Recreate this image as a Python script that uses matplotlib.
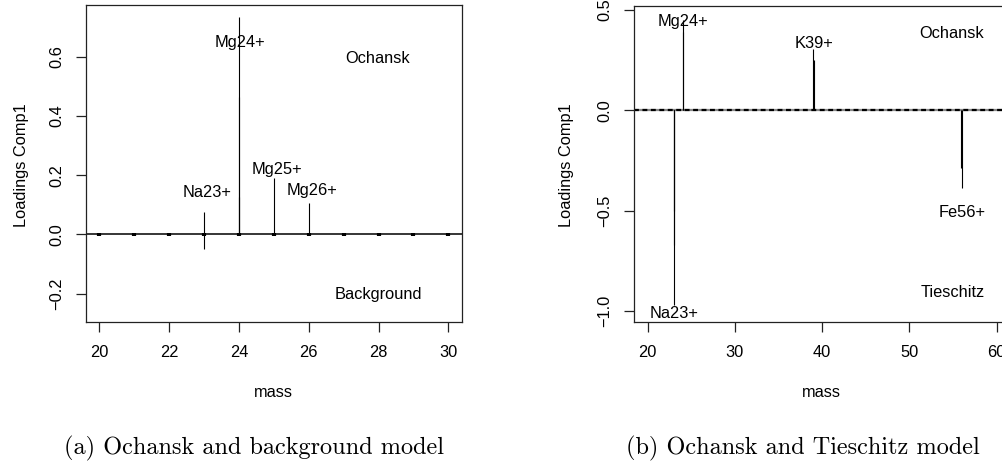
import matplotlib
matplotlib.use('Agg')
import matplotlib.pyplot as plt

plt.rcParams['font.family'] = ['Liberation Sans', 'DejaVu Sans']

# loadings of the first component, Ochansk vs background
mass_a = [22.99, 23.0, 23.99, 24.0, 24.01, 25.0, 26.0]
load_a = [0.075, -0.051, 0.733, 0.465, 0.125, 0.191, 0.107]
# near-zero loadings at the remaining integer masses
small_mass_a = [20, 21, 22, 23, 24, 25, 26, 27, 28, 29, 30]
small_load_a = [0.004, 0.004, 0.004, 0.005, 0.006, 0.005, 0.005, 0.004, 0.004, 0.004, 0.004]
peak_labels_a = ['Mg24+', 'Na23+', 'Mg25+', 'Mg26+']
peak_x_a = [24.04, 23.1, 25.1, 26.1]
peak_y_a = [0.653, 0.146, 0.225, 0.152]
class_labels_a = ['Ochansk', 'Background']
class_x_a = [27.98, 28.0]
class_y_a = [0.6, -0.197]
xticks_a = [20, 22, 24, 26, 28, 30]
yticks_a = [-0.2, 0.0, 0.2, 0.4, 0.6]

# loadings of the first component, Ochansk vs Tieschitz
mass_b = [22.97, 23.0, 23.03, 24.0, 24.04, 39.0, 39.04, 55.96, 56.0]
load_b = [-0.5, -0.67, -0.97, 0.45, 0.39, 0.304, 0.251, -0.289, -0.386]
peak_labels_b = ['Mg24+', 'K39+', 'Fe56+', 'Na23+']
peak_x_b = [24.04, 39.1, 56.0, 23.07]
peak_y_b = [0.45, 0.342, -0.502, -1.004]
class_labels_b = ['Ochansk', 'Tieschitz']
class_x_b = [54.9, 54.96]
class_y_b = [0.392, -0.901]
xticks_b = [20, 30, 40, 50, 60]
yticks_b = [-1.0, -0.5, 0.0, 0.5]

FS = 11.8
W, H = 1003, 466
fig = plt.figure(figsize=(W / 100, H / 100), dpi=100)


def px_axes(x0, y0, x1, y1):
    return fig.add_axes([x0 / W, 1 - y1 / H, (x1 - x0) / W, (y1 - y0) / H])


def style_axes(ax, xticks, yticks, fmt):
    for sp in ax.spines.values():
        sp.set_linewidth(0.9)
        sp.set_color('#222222')
    ax.set_xticks(xticks)
    ax.set_yticks(yticks)
    ax.set_yticklabels([fmt(v) for v in yticks])
    ax.tick_params(axis='both', direction='out', length=7.5, width=0.9,
                   labelsize=FS, color='#222222')
    ax.tick_params(axis='x', pad=9)
    ax.tick_params(axis='y', pad=8, labelrotation=90)
    for lab in ax.get_yticklabels():
        lab.set_va('center')


ax1 = px_axes(86, 5, 462, 322)
ax1.set_xlim(19.62, 30.39)
ax1.set_ylim(-0.296, 0.775)
ax1.axhline(0, color='black', lw=1.1)
ax1.vlines(small_mass_a, [-v for v in small_load_a], small_load_a, color='black', lw=3)
ax1.vlines(mass_a, 0, load_a, color='black', lw=0.8)
for t, x, y in zip(peak_labels_a, peak_x_a, peak_y_a):
    ax1.text(x, y, t, ha='center', va='center_baseline', fontsize=FS)
for t, x, y in zip(class_labels_a, class_x_a, class_y_a):
    ax1.text(x, y, t, ha='center', va='center_baseline', fontsize=FS)
style_axes(ax1, xticks_a, yticks_a, lambda v: f'{v:.1f}'.replace('-', '\u2212'))

ax2 = px_axes(633.7, 5.7, 1012.2, 321.7)
ax2.set_xlim(18.39, 61.8)
ax2.set_ylim(-1.054, 0.522)
ax2.axhline(0, color='#888888', lw=1.6)
ax2.axhline(0, color='black', lw=1.6, linestyle=(0, (2.2, 1.6)))
ax2.vlines(mass_b, 0, load_b, color='black', lw=0.8)
for t, x, y in zip(peak_labels_b, peak_x_b, peak_y_b):
    ax2.text(x, y, t, ha='center', va='center_baseline', fontsize=FS)
for t, x, y in zip(class_labels_b, class_x_b, class_y_b):
    ax2.text(x, y, t, ha='center', va='center_baseline', fontsize=FS)
style_axes(ax2, xticks_b, yticks_b, lambda v: f'{v:.1f}'.replace('-', '\u2212'))

# axis titles
for xc, yc in [(22, 165), (566, 165)]:
    fig.text(xc / W, 1 - yc / H, 'Loadings Comp1', rotation=90,
             ha='center', va='center', fontsize=FS)
for xc in [273, 821.7]:
    fig.text(xc / W, 1 - 392.7 / H, 'mass', ha='center', va='center', fontsize=FS)

# sub-figure captions
fig.text(254 / W, 1 - 448 / H, '(a) Ochansk and background model',
         ha='center', va='center', fontsize=17.5, family='cmr10')
fig.text(802.5 / W, 1 - 448 / H, '(b) Ochansk and Tieschitz model',
         ha='center', va='center', fontsize=17.5, family='cmr10')

fig.savefig('out.png', dpi=100)
